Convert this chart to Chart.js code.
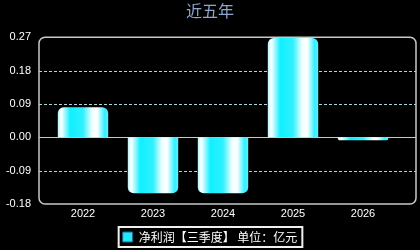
<!DOCTYPE html>
<html>
<head>
<meta charset="utf-8">
<script src="https://cdn.jsdelivr.net/npm/chart.js@4"></script>
<style>
  html, body { margin: 0; padding: 0; background: #000; }
  #wrap { width: 420px; height: 250px; }
</style>
</head>
<body>
<div id="wrap"><canvas id="chart" width="420" height="250"></canvas></div>
<script>
// datos
const years = ["2022", "2023", "2024", "2025", "2026"];
const netProfit = [0.081, -0.151, -0.151, 0.268, -0.008];
const yTicks = [-0.18, -0.09, 0.00, 0.09, 0.18, 0.27];
const seriesName = "净利润【三季度】 单位：亿元";

const CAT_PCT = 0.72;
// el marco es mas ancho que la zona de categorias
const FRAME_LEFT = 9;
const FRAME_RIGHT = 18;

function barGradient(ctx) {
  const chart = ctx.chart;
  const xs = chart.scales.x;
  if (!chart.chartArea || !xs || ctx.dataIndex === undefined) return "#20e8f8";
  const cx = xs.getPixelForValue(ctx.dataIndex);
  const w = xs.width / years.length * CAT_PCT;
  const g = chart.ctx.createLinearGradient(cx - w / 2, 0, cx + w / 2, 0);
  g.addColorStop(0, "#b8f4f8");
  g.addColorStop(0.07, "#ffffff");
  g.addColorStop(0.25, "#10f0ff");
  g.addColorStop(0.5, "#30f0ff");
  g.addColorStop(0.68, "#f0ffff");
  g.addColorStop(0.78, "#ffffff");
  g.addColorStop(0.93, "#30f0ff");
  g.addColorStop(1, "#60f0ff");
  return g;
}

// marco redondeado + lineas de la cuadricula
const plotFrame = {
  id: "plotFrame",
  beforeDatasetsDraw(chart) {
    const { ctx, chartArea: a, scales } = chart;
    const y = scales.y;
    const left = a.left - FRAME_LEFT;
    const right = a.right + FRAME_RIGHT;
    ctx.save();
    yTicks.forEach(v => {
      if (v === yTicks[0] || v === yTicks[yTicks.length - 1]) return;
      const py = Math.round(y.getPixelForValue(v)) + 0.5;
      ctx.beginPath();
      if (v === 0) {
        ctx.setLineDash([]);
        ctx.strokeStyle = "#c8c8c8";
      } else {
        ctx.setLineDash([3, 2]);
        ctx.strokeStyle = "#a8d8dc";
      }
      ctx.lineWidth = 1;
      ctx.moveTo(left, py);
      ctx.lineTo(right, py);
      ctx.stroke();
    });
    ctx.setLineDash([]);
    ctx.strokeStyle = "#c8c8c8";
    ctx.lineWidth = 1.5;
    ctx.beginPath();
    ctx.roundRect(left, a.top, right - left, a.bottom - a.top, 6);
    ctx.stroke();
    ctx.restore();
  },
  afterDraw(chart) {
    // recuadro de la leyenda
    const lg = chart.legend;
    if (!lg || !lg.legendHitBoxes || !lg.legendHitBoxes.length) return;
    const hb = lg.legendHitBoxes[0];
    const ctx = chart.ctx;
    ctx.save();
    ctx.strokeStyle = "#f0f0f0";
    ctx.lineWidth = 2;
    ctx.strokeRect(hb.left - 4, hb.top - 4, hb.width + 9, hb.height + 8);
    ctx.restore();
  }
};

new Chart(document.getElementById("chart"), {
  type: "bar",
  data: {
    labels: years,
    datasets: [{
      label: seriesName,
      data: netProfit,
      backgroundColor: barGradient,
      borderWidth: 0,
      borderRadius: 6,
      barPercentage: 1,
      categoryPercentage: CAT_PCT
    }]
  },
  options: {
    responsive: false,
    animation: false,
    layout: { padding: 0 },
    plugins: {
      title: {
        display: true,
        text: "近五年",
        color: "#8ca6cc",
        font: { family: "'Noto Sans CJK SC', sans-serif", size: 16, weight: "normal" },
        padding: { top: 1, bottom: 17 }
      },
      legend: {
        position: "bottom",
        maxHeight: 28,
        labels: {
          color: "#ffffff",
          font: { family: "'Noto Sans CJK SC', sans-serif", size: 12 },
          boxWidth: 10,
          boxHeight: 10,
          padding: 9,
          generateLabels: chart => [{
            text: seriesName,
            fillStyle: "#20e8f8",
            strokeStyle: "#206080",
            lineWidth: 1,
            fontColor: "#ffffff",
            datasetIndex: 0
          }]
        }
      },
      tooltip: { enabled: false }
    },
    scales: {
      x: {
        grid: { display: false, drawTicks: false },
        border: { display: false },
        ticks: {
          color: "#ffffff",
          font: { family: "'Liberation Sans', Arial, sans-serif", size: 11 },
          padding: 3
        },
        afterFit: s => { s.height = 18; }
      },
      y: {
        min: yTicks[0],
        max: yTicks[yTicks.length - 1],
        grid: { display: false, drawTicks: false },
        border: { display: false },
        afterBuildTicks: s => { s.ticks = yTicks.map(v => ({ value: v })); },
        ticks: {
          color: "#ffffff",
          font: { family: "'Liberation Sans', Arial, sans-serif", size: 11 },
          padding: 17,
          callback: v => Number(v).toFixed(2)
        },
        afterFit: s => { s.width = 48; }
      },
      // eje vacio a la derecha, solo para reservar espacio
      y2: {
        position: "right",
        min: yTicks[0],
        max: yTicks[yTicks.length - 1],
        grid: { display: false, drawTicks: false },
        border: { display: false },
        ticks: { display: false },
        afterFit: s => { s.width = 22; }
      }
    }
  },
  plugins: [plotFrame]
});
</script>
</body>
</html>
